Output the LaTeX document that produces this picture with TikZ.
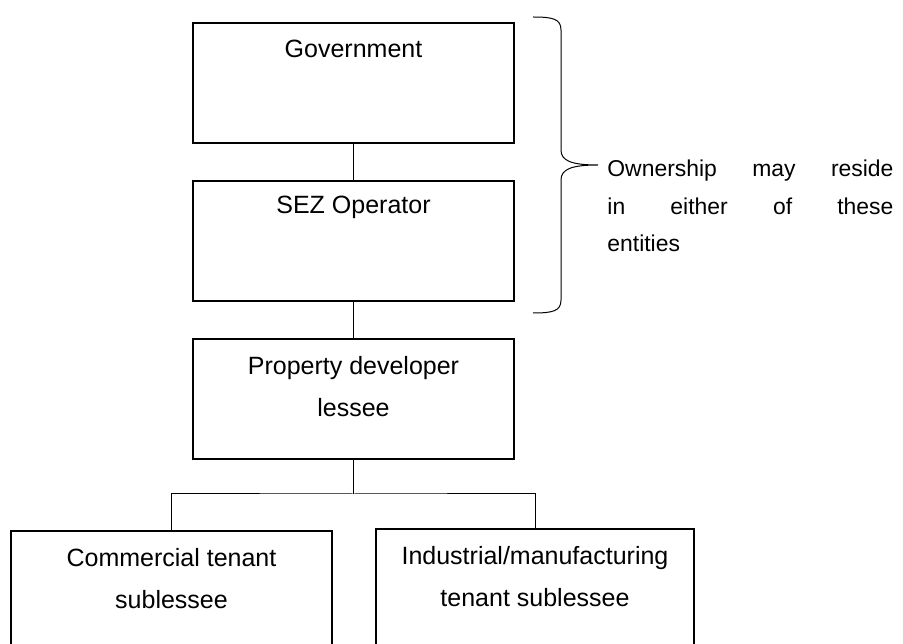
\documentclass[tikz,border=0pt]{standalone}
\usepackage{fontspec}
\setmainfont{Liberation Sans}
\usepackage{tikz}
\usetikzlibrary{positioning}
\usepackage{xcolor}

\begin{document}
\begin{tikzpicture}[x=.48pt,y=-.48pt,
  box/.style={draw,line width=.96pt,minimum width=154.1pt,minimum height=57.6pt,inner sep=0pt},
  lbl/.style={align=center,inner sep=0pt,font=\fontsize{12pt}{20.2pt}\selectfont},
  wire/.style={line width=.48pt}]
\useasboundingbox (0,0) rectangle (903,644);
\node[box] (gov) at (353.5,83) {};
\node[box] (sez) at (353.5,241) {};
\node[box] (pd) at (353.5,399) {};
\node[box,minimum height=61.9pt] (com) at (171.5,595.5) {};
\node[box,minimum width=152.6pt,minimum height=62.9pt] (ind) at (535,594.5) {};
\node[lbl,anchor=base] (govt) at (353.5,58) {Government};
\node[lbl,anchor=base] (sezt) at (353.5,214) {SEZ Operator};
\node[lbl,anchor=base] (pdt) at (353.5,417) {Property developer\\lessee};
\node[lbl,anchor=base] (comt) at (171.5,609) {Commercial tenant\\sublessee};
\node[lbl,anchor=base] (indt) at (535,607) {Industrial/manufacturing\\tenant sublessee};
\coordinate (bus) at (353.5,494);
\draw[wire] (gov) -- (sez);
\draw[wire] (sez) -- (pd);
\draw[wire] (pd) -- (bus);
\draw[wire] (com.north) |- (bus) -| (ind.north);
% brace
\draw[wire] (533,17) .. controls (553,17) and (561,19) .. (561,30) -- (561,150)
  .. controls (561,161) and (572,165) .. (598,165)
  .. controls (572,165) and (561,169) .. (561,180) -- (561,300)
  .. controls (561,311) and (553,313) .. (533,313);
\node[anchor=base west,text width=137.3pt,align=left,inner sep=0pt,
  font=\fontsize{11pt}{18pt}\selectfont] (own) at (607,177)
  {Ownership\hfill may\hfill reside\\in\hfill either\hfill of\hfill these\\entities};
\end{tikzpicture}
\end{document}
